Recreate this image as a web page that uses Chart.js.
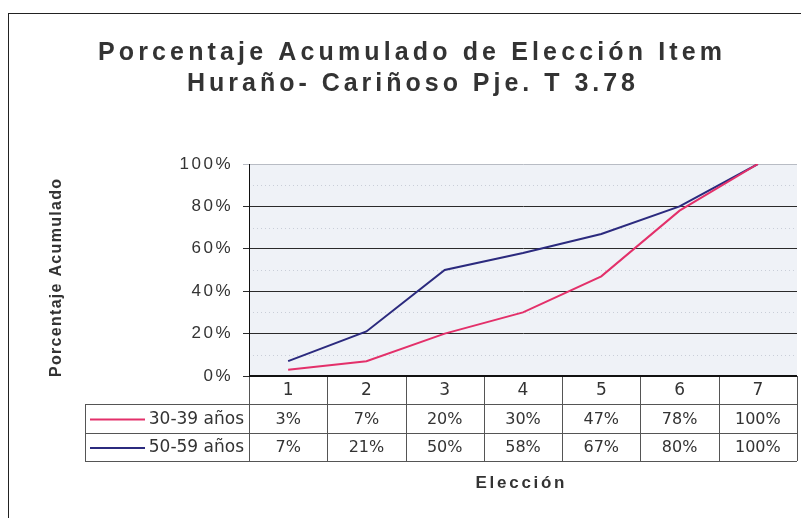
<!DOCTYPE html>
<html>
<head>
<meta charset="utf-8">
<script src="https://cdn.jsdelivr.net/npm/chart.js@4/dist/chart.umd.min.js"></script>
<style>
  html, body { margin: 0; padding: 0; background: #fff; }
  #wrap { position: relative; width: 801px; height: 518px; }
</style>
</head>
<body>
<div id="wrap"><canvas id="chart" width="801" height="518"></canvas></div>
<script>
// --- Data ---
const categories = ['1', '2', '3', '4', '5', '6', '7'];
const serieNames = ['30-39 años', '50-59 años'];
const serie3039 = [3, 7, 20, 30, 47, 78, 100];
const serie5059 = [7, 21, 50, 58, 67, 80, 100];
const yTicks = [0, 20, 40, 60, 80, 100];
const minorTicks = [10, 30, 50, 70, 90];

const titleLines = ['Porcentaje Acumulado de Elección Item', 'Huraño- Cariñoso Pje. T 3.78'];
const yTitle = 'Porcentaje Acumulado';
const xTitle = 'Elección';

const colors = ['#e3306a', '#2b2a7e'];
const arial = '"Liberation Sans", Arial, sans-serif';
const tahoma = '"DejaVu Sans", Tahoma, sans-serif';

// draw text stretched with letter spacing so it fills a given width
function spacedText(ctx, text, cx, y, font, width) {
  ctx.font = font;
  ctx.letterSpacing = '0px';
  const natural = ctx.measureText(text).width;
  const sp = (width - natural) / (text.length - 1);
  ctx.letterSpacing = sp + 'px';
  ctx.textAlign = 'left';
  ctx.fillText(text, cx - width / 2, y);
  ctx.letterSpacing = '0px';
}

// plot background + faint dotted minor lines
const backgroundPlugin = {
  id: 'plotBackground',
  beforeDraw(chart) {
    const { ctx, chartArea: a, scales: { y } } = chart;
    ctx.save();
    ctx.fillStyle = '#eff2f7';
    ctx.fillRect(a.left, a.top, a.right - a.left, a.bottom - a.top);
    ctx.strokeStyle = '#c9ced8';
    ctx.lineWidth = 1;
    ctx.setLineDash([1, 3]);
    minorTicks.forEach(v => {
      const py = Math.round(y.getPixelForValue(v)) + 0.5;
      ctx.beginPath();
      ctx.moveTo(a.left, py);
      ctx.lineTo(a.right, py);
      ctx.stroke();
    });
    ctx.restore();
    // spaced tick labels on the value axis
    ctx.letterSpacing = '2.5px';
  },
  beforeDatasetsDraw(chart) {
    chart.ctx.letterSpacing = '0px';
  }
};

// titles, data table and outer frame
const decorPlugin = {
  id: 'decor',
  afterDraw(chart) {
    const { ctx, chartArea: a, scales: { x } } = chart;
    ctx.save();

    // main title
    ctx.fillStyle = '#333';
    ctx.textBaseline = 'alphabetic';
    spacedText(ctx, titleLines[0], 410, 60, 'bold 25px ' + arial, 624);
    spacedText(ctx, titleLines[1], 411, 91, 'bold 25px ' + arial, 448);

    // y title
    ctx.save();
    ctx.translate(61, 278);
    ctx.rotate(-Math.PI / 2);
    spacedText(ctx, yTitle, 0, 0, 'bold 16px ' + arial, 198);
    ctx.restore();

    // x title
    spacedText(ctx, xTitle, 520, 488, 'bold 17px ' + arial, 89);

    // data table
    const colW = (a.right - a.left) / categories.length;
    const rows = [a.bottom, a.bottom + 28, a.bottom + 57, a.bottom + 85];
    const legendLeft = 85;
    ctx.strokeStyle = '#555';
    ctx.lineWidth = 1;
    const line = (x1, y1, x2, y2) => {
      ctx.beginPath();
      ctx.moveTo(x1, y1);
      ctx.lineTo(x2, y2);
      ctx.stroke();
    };
    line(legendLeft, rows[1] + 0.5, a.right, rows[1] + 0.5);
    line(legendLeft, rows[2] + 0.5, a.right, rows[2] + 0.5);
    line(legendLeft, rows[3] + 0.5, a.right, rows[3] + 0.5);
    for (let i = 0; i <= categories.length; i++) {
      const px = Math.round(a.left + i * colW) + 0.5;
      line(px, rows[0], px, rows[3]);
    }
    line(legendLeft + 0.5, rows[1], legendLeft + 0.5, rows[3]);

    // axis baseline
    ctx.strokeStyle = '#111';
    ctx.lineWidth = 2;
    line(a.left, a.bottom, a.right, a.bottom);

    // header labels
    ctx.fillStyle = '#333';
    ctx.textBaseline = 'middle';
    ctx.textAlign = 'center';
    ctx.font = '17px ' + tahoma;
    categories.forEach((c, i) => {
      ctx.fillText(c, x.getPixelForValue(i), (rows[0] + rows[1]) / 2 + 1);
    });
    // value rows
    [serie3039, serie5059].forEach((serie, r) => {
      const cy = (rows[r + 1] + rows[r + 2]) / 2 + 1;
      ctx.font = '16px ' + tahoma;
      ctx.textAlign = 'center';
      serie.forEach((v, i) => {
        ctx.fillText(v + '%', x.getPixelForValue(i), cy);
      });
      // legend key
      ctx.strokeStyle = colors[r];
      ctx.lineWidth = 2;
      line(90, cy, 145, cy);
      ctx.textAlign = 'right';
      ctx.font = '17px ' + tahoma;
      ctx.fillText(serieNames[r], 244, cy);
    });

    // outer frame
    ctx.strokeStyle = '#222';
    ctx.lineWidth = 1;
    ctx.strokeRect(8.5, 13.5, 820, 540);
    ctx.restore();
  }
};

const ctx = document.getElementById('chart').getContext('2d');
const chart = new Chart(ctx, {
  type: 'line',
  data: {
    labels: categories,
    datasets: [
      { label: serieNames[0], data: serie3039, borderColor: colors[0], borderWidth: 2, pointRadius: 0, tension: 0, fill: false },
      { label: serieNames[1], data: serie5059, borderColor: colors[1], borderWidth: 2, pointRadius: 0, tension: 0, fill: false }
    ]
  },
  options: {
    responsive: false,
    animation: false,
    layout: { padding: { top: 164, right: 4, bottom: 142, left: 0 } },
    plugins: {
      legend: { display: false },
      title: { display: false },
      tooltip: { enabled: false }
    },
    scales: {
      x: {
        display: false,
        offset: true
      },
      y: {
        min: 0,
        max: 100,
        afterFit(scale) { scale.width = 249; },
        afterBuildTicks(scale) { scale.ticks = yTicks.map(v => ({ value: v })); },
        ticks: {
          color: '#333',
          font: { family: arial, size: 17 },
          padding: 10,
          callback: v => v + '%'
        },
        border: { display: true, color: '#111', width: 1 },
        grid: {
          drawTicks: true,
          tickLength: 6,
          color: c => (c.tick && c.tick.value === 100 ? '#b8bcc4' : '#2a2a2a'),
          lineWidth: 1
        }
      }
    }
  },
  plugins: [backgroundPlugin, decorPlugin]
});
</script>
</body>
</html>
